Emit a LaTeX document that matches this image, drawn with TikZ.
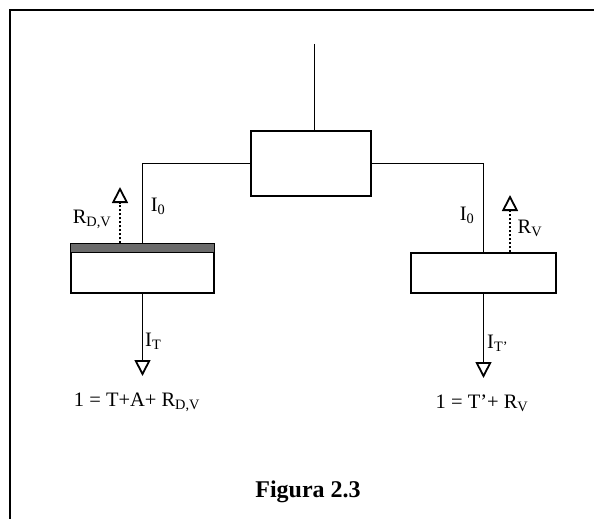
\documentclass[tikz,border=0pt]{standalone}
\usepackage{fontspec}
\setmainfont{Liberation Serif}
\usetikzlibrary{arrows.meta}

\begin{document}
\begin{tikzpicture}[x=1pt, y=-1pt,
    blk/.style={draw, line width=1.2pt, inner sep=0pt},
    wire/.style={line width=1pt},
    flow/.style={line width=1pt, -{Triangle[open, length=16pt, width=16pt, line width=1.8pt]}},
    refl/.style={line width=2pt, dotted, -{Triangle[open, length=16pt, width=16pt, line width=1.8pt]}},
    lbl/.style={font=\fontsize{20.5}{24}\selectfont, inner sep=0pt}]
    \useasboundingbox (0,0) rectangle (594,519);

    % Draw frame
    \draw[line width=2.5pt] (594,10) -- (10,10) -- (10,519);

    % Draw boxes
    \node[blk, minimum width=120pt, minimum height=65pt] (split) at (311,163.5) {};
    \node[blk, minimum width=143pt, minimum height=49pt] (samp) at (142.5,268.5) {};
    \node[blk, minimum width=145pt, minimum height=40pt] (refer) at (483.5,273) {};
    \fill[black!58, draw=black, line width=1.2pt] (samp.north west) rectangle ([yshift=-9pt]samp.north east);

    % Draw incoming beam and branches
    \coordinate (beam) at (314,44);
    \draw[wire] (beam) -- (beam |- split.north);
    \draw[wire] (split.west) -| (samp.north);
    \draw[wire] (split.east) -| (refer.north);

    % Draw transmitted beams
    \coordinate (tsamp) at (142.5,376);
    \coordinate (trefer) at (483.5,378);
    \draw[flow] (samp.south) -- (tsamp);
    \draw[flow] (refer.south) -- (trefer);

    % Draw reflected beams
    \coordinate (rsamp) at (120,187);
    \coordinate (rrefer) at (510,195);
    \draw[refl] (rsamp |- samp.north) -- (rsamp);
    \draw[refl] (rrefer |- refer.north) -- (rrefer);

    % Labels
    \node[lbl] (iza) at (158,206) {I\textsubscript{0}};
    \node[lbl] (rdv) at (92,219) {R\textsubscript{D,V}};
    \node[lbl] (izb) at (467,215) {I\textsubscript{0}};
    \node[lbl] (rv) at (530,228) {R\textsubscript{V}};
    \node[lbl, anchor=west] (it) at (145,341) {I\textsubscript{T}};
    \node[lbl, anchor=west] (itp) at (487,343) {I\textsubscript{T’}};
    \node[lbl] (eqa) at (137,402) {1 = T+A+ R\textsubscript{D,V}};
    \node[lbl] (eqb) at (482,403) {1 = T’+ R\textsubscript{V}};
    \node[lbl, font=\fontsize{24}{28}\selectfont\bfseries] (cap) at (308,492) {Figura 2.3};

\end{tikzpicture}
\end{document}
